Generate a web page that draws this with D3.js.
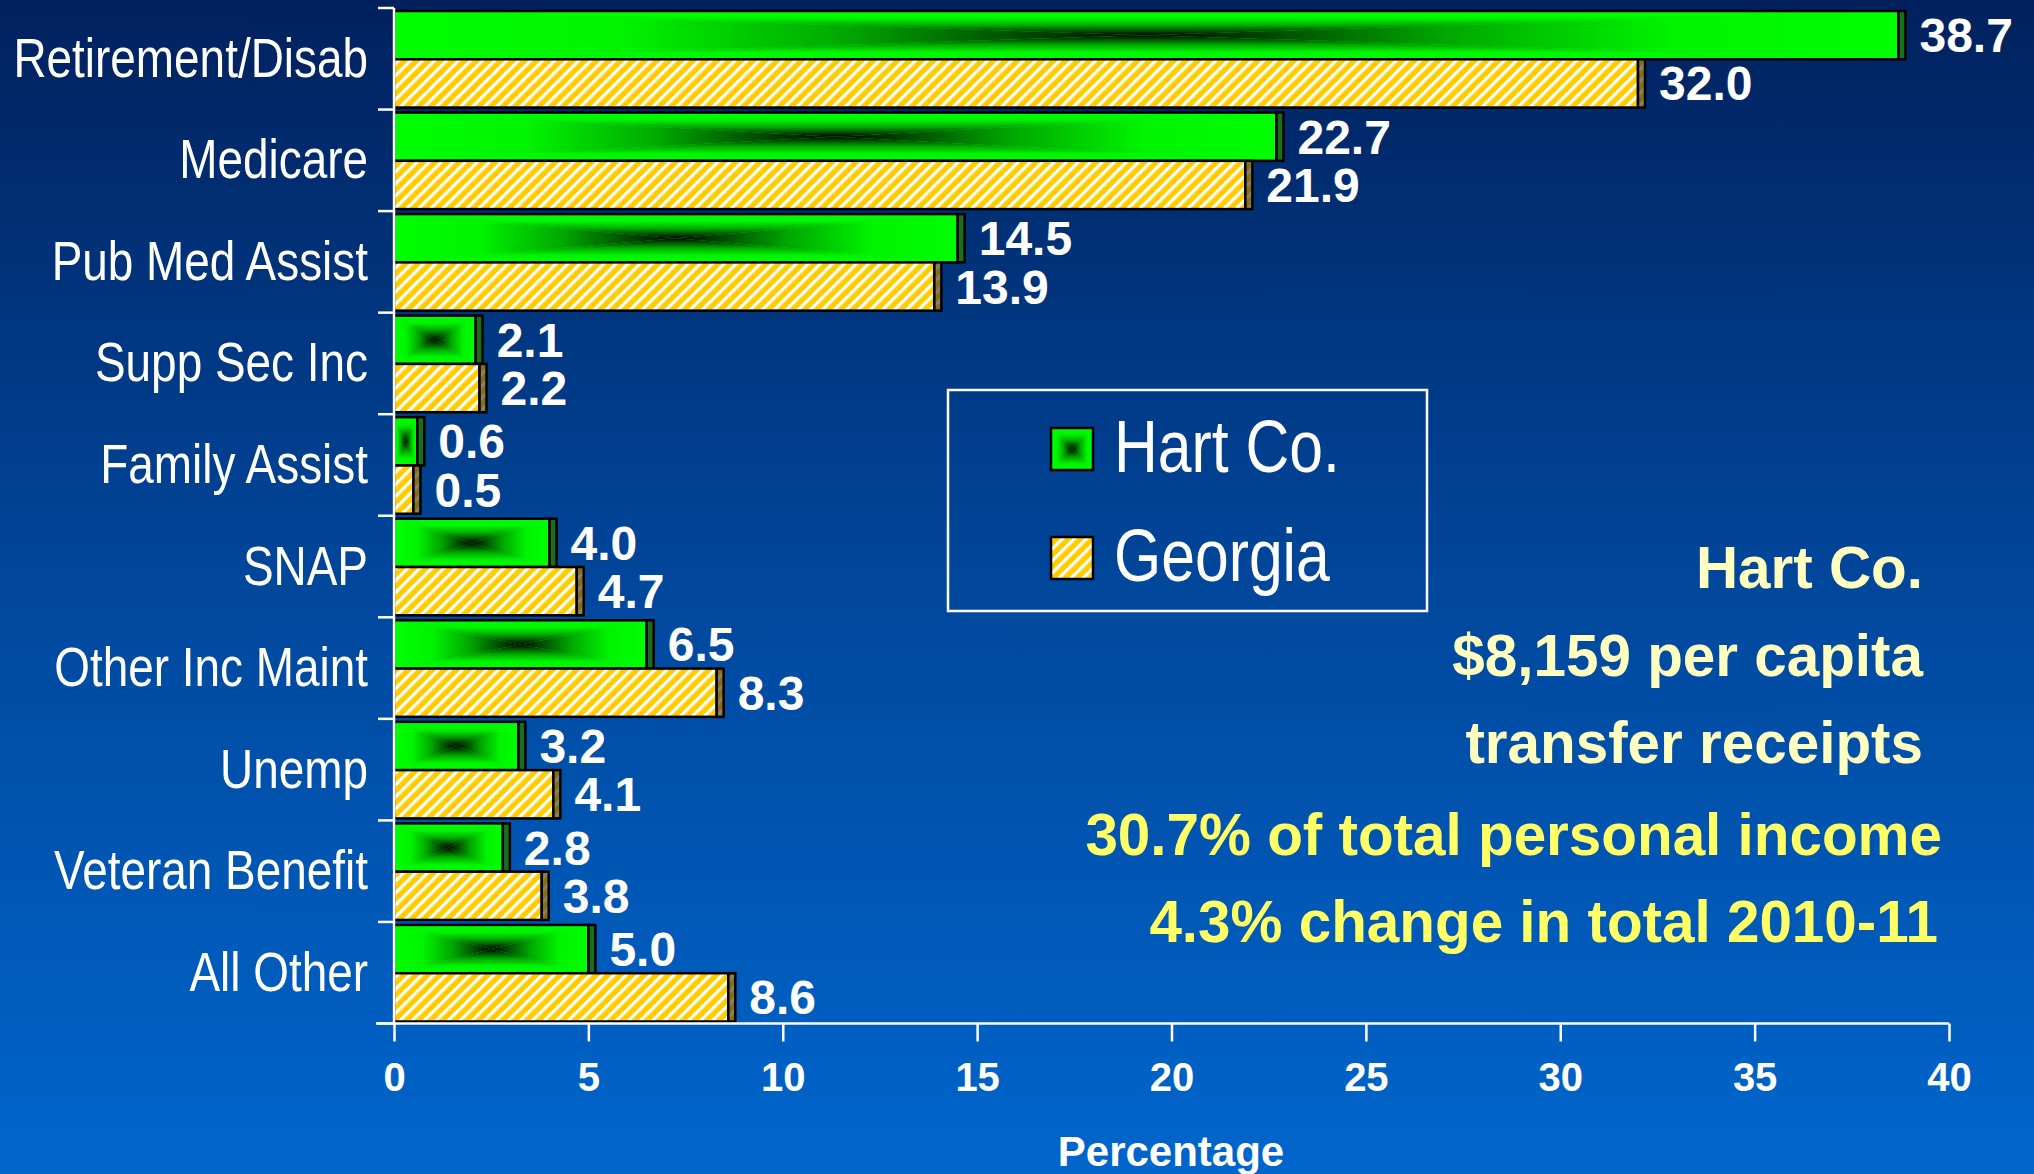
<!DOCTYPE html>
<html>
<head>
<meta charset="utf-8">
<script src="https://cdn.jsdelivr.net/npm/d3@7"></script>
<style>
  body { margin: 0; background: #0048a0; }
  svg { display: block; }
</style>
</head>
<body>
<svg id="chart" width="2034" height="1174"></svg>
<script>
// data
const categories = ["Retirement/Disab", "Medicare", "Pub Med Assist", "Supp Sec Inc", "Family Assist",
  "SNAP", "Other Inc Maint", "Unemp", "Veteran Benefit", "All Other"];
const hartValues = [38.7, 22.7, 14.5, 2.1, 0.6, 4.0, 6.5, 3.2, 2.8, 5.0];
const georgiaValues = [32.0, 21.9, 13.9, 2.2, 0.5, 4.7, 8.3, 4.1, 3.8, 8.6];
const seriesNames = ["Hart Co.", "Georgia"];
const xTicks = [0, 5, 10, 15, 20, 25, 30, 35, 40];
const axisTitle = "Percentage";
const noteLines = ["Hart Co.", "$8,159 per capita", "transfer receipts",
  "30.7% of total personal income", "4.3% change in total 2010-11"];

// no Arial Narrow here, so squeeze Liberation Sans horizontally
const sans = "'Liberation Sans',Arial,sans-serif";
const squeeze = 0.82;

const svg = d3.select("#chart");
const defs = svg.append("defs");

// background
const bg = defs.append("linearGradient").attr("id", "bg")
  .attr("x1", 0).attr("y1", 0).attr("x2", 0).attr("y2", 1);
bg.append("stop").attr("offset", 0).attr("stop-color", "#01215d");
bg.append("stop").attr("offset", 0.5).attr("stop-color", "#01479c");
bg.append("stop").attr("offset", 1).attr("stop-color", "#0066cc");
svg.append("rect").attr("width", 2034).attr("height", 1174).attr("fill", "url(#bg)");

// rectangular "from centre" gradient: one linear gradient per side triangle
const greenStops = [[0, "#00ff00"], [0.3, "#00f400"], [0.6, "#00a800"], [0.85, "#004400"], [1, "#000000"]];
const sides = {
  top: [0, 0, 0, 1], bottom: [0, 1, 0, 0], left: [0, 0, 1, 0], right: [1, 0, 0, 0]
};
Object.entries(sides).forEach(([k, v]) => {
  const g = defs.append("linearGradient").attr("id", "g-" + k)
    .attr("x1", v[0]).attr("y1", v[1]).attr("x2", v[2]).attr("y2", v[3]);
  greenStops.forEach(s => g.append("stop").attr("offset", s[0]).attr("stop-color", s[1]));
});

// yellow / white hatch
const hatch = defs.append("pattern").attr("id", "hatch")
  .attr("patternUnits", "userSpaceOnUse").attr("width", 8.5).attr("height", 8.5)
  .attr("patternTransform", "rotate(45)");
hatch.append("rect").attr("width", 8.5).attr("height", 8.5).attr("fill", "#ffcc00");
hatch.append("rect").attr("x", 0).attr("width", 3.2).attr("height", 8.5).attr("fill", "#ffffff");

const x = d3.scaleLinear().domain([0, 40]).range([394, 1949]);
const y = d3.scaleBand().domain(categories).range([8, 1023.5]);
const inner = d3.scaleBand().domain(seriesNames).range([3, y.bandwidth() - 2]);
const bh = inner.bandwidth();

const rows = categories.map((c, i) => ({ cat: c, hart: hartValues[i], georgia: georgiaValues[i] }));

function pillow(g, x0, y0, x1, y1) {
  const cx = (x0 + x1) / 2, cy = (y0 + y1) / 2;
  g.append("rect").attr("x", x0).attr("y", y0).attr("width", x1 - x0).attr("height", y1 - y0).attr("fill", "#00ff00");
  const tris = [
    ["top", [[x0, y0], [x1, y0], [cx, cy]]],
    ["bottom", [[x0, y1], [x1, y1], [cx, cy]]],
    ["left", [[x0, y0], [x0, y1], [cx, cy]]],
    ["right", [[x1, y0], [x1, y1], [cx, cy]]]
  ];
  tris.forEach(([k, pts]) => {
    g.append("polygon").attr("points", pts.map(p => p.join(",")).join(" "))
      .attr("fill", `url(#g-${k})`);
  });
  g.append("rect").attr("x", x0).attr("y", y0).attr("width", x1 - x0).attr("height", y1 - y0)
    .attr("fill", "none").attr("stroke", "#000").attr("stroke-width", 2.5);
}

const capW = 7;
const valueSize = 48;
const barsG = svg.append("g");
rows.forEach(r => {
  const g = barsG.append("g");
  // Hart Co.
  const hy = y(r.cat) + inner("Hart Co.");
  pillow(g, x(0), hy, x(r.hart), hy + bh);
  g.append("rect").attr("x", x(r.hart)).attr("y", hy).attr("width", capW).attr("height", bh)
    .attr("fill", "#1a701a").attr("stroke", "#000").attr("stroke-width", 2.5);
  g.append("text").attr("x", x(r.hart) + capW + 14).attr("y", hy + bh / 2 + 17)
    .attr("fill", "#fff").attr("font-family", sans).attr("font-weight", "bold")
    .attr("font-size", valueSize).text(r.hart.toFixed(1));
  // Georgia
  const gy = y(r.cat) + inner("Georgia");
  g.append("rect").attr("x", x(0)).attr("y", gy).attr("width", x(r.georgia) - x(0)).attr("height", bh)
    .attr("fill", "url(#hatch)").attr("stroke", "#000").attr("stroke-width", 2.5);
  g.append("rect").attr("x", x(r.georgia)).attr("y", gy).attr("width", capW).attr("height", bh)
    .attr("fill", "url(#hatch)");
  g.append("rect").attr("x", x(r.georgia)).attr("y", gy).attr("width", capW).attr("height", bh)
    .attr("fill", "rgba(70,60,30,0.65)").attr("stroke", "#000").attr("stroke-width", 2.5);
  g.append("text").attr("x", x(r.georgia) + capW + 14).attr("y", gy + bh / 2 + 17)
    .attr("fill", "#fff").attr("font-family", sans).attr("font-weight", "bold")
    .attr("font-size", valueSize).text(r.georgia.toFixed(1));
});

// y axis: line, ticks at band edges, category labels
const yAxisG = svg.append("g").attr("stroke", "#fff").attr("stroke-width", 2.5);
yAxisG.append("line").attr("x1", x(0)).attr("x2", x(0)).attr("y1", y.range()[0]).attr("y2", y.range()[1]);
const edges = categories.map(c => y(c)).concat([y.range()[1]]);
yAxisG.selectAll("line.tk").data(edges).enter().append("line").attr("class", "tk")
  .attr("x1", x(0) - 16).attr("x2", x(0)).attr("y1", d => d).attr("y2", d => d);

svg.append("g").selectAll("text").data(categories).enter().append("text")
  .attr("transform", d => `translate(368,${y(d) + y.bandwidth() / 2 + 18}) scale(${squeeze},1)`)
  .attr("text-anchor", "end").attr("fill", "#fff")
  .attr("font-family", sans).attr("font-size", 56).text(d => d);

// x axis
const xAxisG = svg.append("g").attr("transform", `translate(0,${y.range()[1]})`)
  .call(d3.axisBottom(x).tickValues(xTicks).tickSize(18).tickPadding(21).tickFormat(d3.format("d")));
xAxisG.select(".domain").remove();
xAxisG.selectAll(".tick line").attr("stroke", "#fff").attr("stroke-width", 2.5);
xAxisG.selectAll(".tick text").attr("fill", "#fff").attr("font-family", sans)
  .attr("font-weight", "bold").attr("font-size", 40);
xAxisG.append("line").attr("x1", 376).attr("x2", x(40)).attr("y1", 0).attr("y2", 0)
  .attr("stroke", "#fff").attr("stroke-width", 2.5);

svg.append("text").attr("x", 1171).attr("y", 1166).attr("text-anchor", "middle")
  .attr("fill", "#fff").attr("font-family", sans).attr("font-weight", "bold")
  .attr("font-size", 42).text(axisTitle);

// legend
const leg = svg.append("g");
leg.append("rect").attr("x", 948).attr("y", 390).attr("width", 479).attr("height", 221)
  .attr("fill", "none").attr("stroke", "#fff").attr("stroke-width", 2.5);
const sw = 42;
const legRows = [{ name: seriesNames[0], y: 428 }, { name: seriesNames[1], y: 537 }];
legRows.forEach((d, i) => {
  if (i === 0) {
    pillow(leg, 1051, d.y, 1051 + sw, d.y + sw);
  } else {
    leg.append("rect").attr("x", 1051).attr("y", d.y).attr("width", sw).attr("height", sw)
      .attr("fill", "url(#hatch)").attr("stroke", "#000").attr("stroke-width", 2.5);
  }
  leg.append("text").attr("transform", `translate(1114,${d.y + 44}) scale(${squeeze},1)`)
    .attr("fill", "#fff").attr("font-family", sans).attr("font-size", 74).text(d.name);
});

// notes on the right
const noteBase = [588, 676, 763, 855, 942];
const noteRight = [1923, 1923, 1923, 1942, 1938];
const noteColor = ["#ffffc0", "#ffffc0", "#ffffc0", "#ffff66", "#ffff66"];
svg.append("g").selectAll("text").data(noteLines).enter().append("text")
  .attr("x", (d, i) => noteRight[i]).attr("y", (d, i) => noteBase[i])
  .attr("text-anchor", "end").attr("fill", (d, i) => noteColor[i])
  .attr("font-family", sans).attr("font-weight", "bold").attr("font-size", 58.4)
  .text(d => d);
</script>
</body>
</html>
